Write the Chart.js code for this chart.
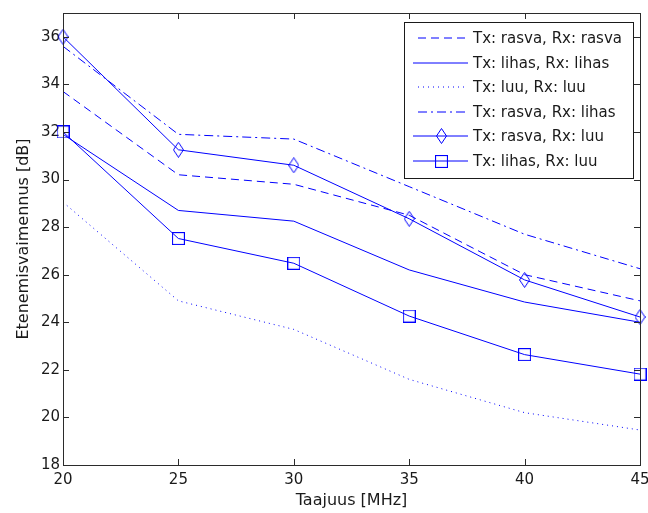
<!DOCTYPE html>
<html>
<head>
<meta charset="utf-8">
<script src="https://cdn.jsdelivr.net/npm/chart.js@4.4.1/dist/chart.umd.min.js"></script>
<style>
  html, body { margin: 0; padding: 0; background: #fff; }
</style>
</head>
<body>
<canvas id="chart" width="648" height="513"></canvas>
<script>
// frequencies (MHz) and attenuation (dB) per Tx/Rx tissue pair
var freqs = [20, 25, 30, 35, 40, 45];
var rasvaRasva = [33.7, 30.2, 29.8, 28.5, 26.0, 24.9];
var lihasLihas = [31.9, 28.7, 28.25, 26.2, 24.85, 24.0];
var luuLuu = [29.05, 24.9, 23.7, 21.6, 20.2, 19.47];
var rasvaLihas = [35.6, 31.9, 31.7, 29.7, 27.7, 26.25];
var rasvaLuu = [36.0, 31.25, 30.6, 28.35, 25.78, 24.22];
var lihasLuu = [32.0, 27.52, 26.48, 24.26, 22.64, 21.82];
var seriesNames = ['Tx: rasva, Rx: rasva', 'Tx: lihas, Rx: lihas', 'Tx: luu, Rx: luu',
  'Tx: rasva, Rx: lihas', 'Tx: rasva, Rx: luu', 'Tx: lihas, Rx: luu'];
var xTicks = [20, 25, 30, 35, 40, 45];
var yTicks = [18, 20, 22, 24, 26, 28, 30, 32, 34, 36];

var blue = '#0000ff';
var axisColor = '#2b2b2b';
var textColor = '#1a1a1a';
var fontFamily = "'DejaVu Sans', Verdana, sans-serif";

// unfilled matlab-like markers
function makeMarker(kind) {
  var c = document.createElement('canvas');
  var g = c.getContext('2d');
  if (kind === 'diamond') {
    c.width = 11; c.height = 16;
    g.strokeStyle = blue; g.lineWidth = 1;
    g.beginPath();
    g.moveTo(5.5, 0.5); g.lineTo(10.5, 8); g.lineTo(5.5, 15.5); g.lineTo(0.5, 8);
    g.closePath(); g.stroke();
  } else {
    c.width = 13; c.height = 13;
    g.strokeStyle = blue; g.lineWidth = 1.2;
    g.strokeRect(0.5, 0.5, 12, 12);
  }
  return c;
}
var diamond = makeMarker('diamond');
var square = makeMarker('square');

function toPoints(vals) {
  return freqs.map(function (f, i) { return { x: f, y: vals[i] }; });
}

var dashes = [[8, 5], [], [1, 4], [9, 4, 2, 4], [], []];
var markers = [false, false, false, false, diamond, square];
var values = [rasvaRasva, lihasLihas, luuLuu, rasvaLihas, rasvaLuu, lihasLuu];

var datasets = values.map(function (v, i) {
  return {
    label: seriesNames[i],
    data: toPoints(v),
    borderColor: blue,
    backgroundColor: 'rgba(0,0,0,0)',
    borderWidth: 1,
    borderDash: dashes[i],
    pointStyle: markers[i] || 'circle',
    pointRadius: markers[i] ? 7 : 0,
    pointHoverRadius: markers[i] ? 7 : 0,
    clip: false,
    tension: 0
  };
});

// box around the plot, inward ticks on all sides, legend inside
var matlabAxes = {
  id: 'matlabAxes',
  afterDraw: function (chart) {
    var ctx = chart.ctx;
    var a = chart.chartArea;
    var xs = chart.scales.x, ys = chart.scales.y;
    ctx.save();
    ctx.strokeStyle = axisColor;
    ctx.lineWidth = 1;
    ctx.strokeRect(Math.round(a.left) + 0.5, Math.round(a.top) + 0.5,
      Math.round(a.right - a.left), Math.round(a.bottom - a.top));
    ctx.beginPath();
    xTicks.forEach(function (t) {
      var px = Math.round(xs.getPixelForValue(t)) + 0.5;
      ctx.moveTo(px, a.bottom); ctx.lineTo(px, a.bottom - 6);
      ctx.moveTo(px, a.top); ctx.lineTo(px, a.top + 6);
    });
    yTicks.forEach(function (t) {
      var py = Math.round(ys.getPixelForValue(t)) + 0.5;
      ctx.moveTo(a.left, py); ctx.lineTo(a.left + 6, py);
      ctx.moveTo(a.right, py); ctx.lineTo(a.right - 6, py);
    });
    ctx.stroke();

    // legend
    var bx = 404, by = 22, bw = 229, bh = 156;
    ctx.fillStyle = '#fff';
    ctx.fillRect(bx, by, bw, bh);
    ctx.strokeStyle = '#1a1a1a';
    ctx.strokeRect(bx + 0.5, by + 0.5, bw, bh);
    ctx.font = '15px ' + fontFamily;
    ctx.textBaseline = 'middle';
    ctx.textAlign = 'left';
    datasets.forEach(function (d, i) {
      var y = Math.round(by + 16 + i * 24.6);
      ctx.strokeStyle = blue;
      ctx.setLineDash(d.borderDash);
      ctx.beginPath();
      ctx.moveTo(d.borderDash.length ? 418 : 413, y);
      ctx.lineTo(468, y);
      ctx.stroke();
      ctx.setLineDash([]);
      if (markers[i]) {
        var m = markers[i];
        ctx.drawImage(m, Math.round(441 - m.width / 2), Math.round(y - m.height / 2));
      }
      ctx.fillStyle = textColor;
      ctx.fillText(d.label, 473, y + 1);
    });
    ctx.restore();
  }
};

new Chart(document.getElementById('chart'), {
  type: 'line',
  data: { datasets: datasets },
  options: {
    responsive: false,
    animation: false,
    devicePixelRatio: 1,
    layout: { padding: { top: 13, right: 8, left: 0, bottom: 0 } },
    plugins: { legend: { display: false }, tooltip: { enabled: false } },
    scales: {
      x: {
        type: 'linear',
        min: 20, max: 45,
        afterBuildTicks: function (s) { s.ticks = xTicks.map(function (v) { return { value: v }; }); },
        afterFit: function (s) { s.height = 48; s.paddingLeft = 0; s.paddingRight = 0; },
        grid: { display: false, drawTicks: false },
        border: { display: false },
        ticks: { padding: 6, color: textColor, font: { family: fontFamily, size: 15 }, maxRotation: 0 },
        title: { display: true, text: 'Taajuus [MHz]', color: textColor, padding: { top: 0, bottom: 3 },
          font: { family: fontFamily, size: 16 } }
      },
      y: {
        type: 'linear',
        min: 18, max: 37,
        afterBuildTicks: function (s) { s.ticks = yTicks.map(function (v) { return { value: v }; }); },
        afterFit: function (s) { s.width = 63; s.paddingTop = 0; s.paddingBottom = 0; },
        grid: { display: false, drawTicks: false },
        border: { display: false },
        ticks: { padding: 3, color: textColor, font: { family: fontFamily, size: 15 } },
        title: { display: true, text: 'Etenemisvaimennus [dB]', color: textColor, padding: { top: 14, bottom: 0 },
          font: { family: fontFamily, size: 16 } }
      }
    }
  },
  plugins: [matlabAxes]
});
</script>
</body>
</html>
